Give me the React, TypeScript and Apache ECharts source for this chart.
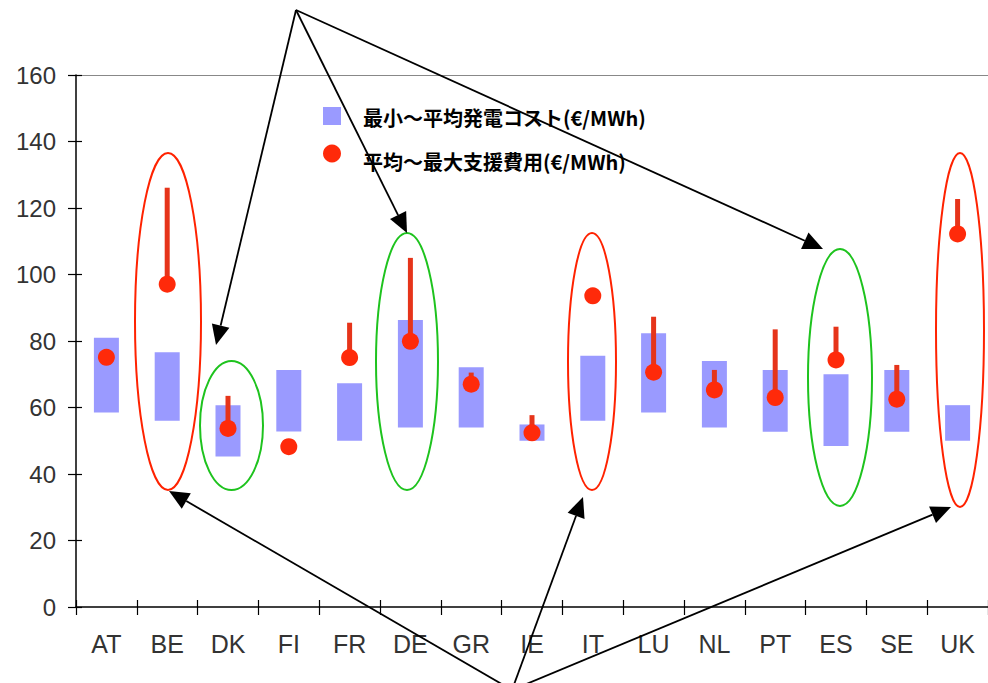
import React, { useEffect, useRef } from "react";
import * as echarts from "echarts";

const categories = ["AT", "BE", "DK", "FI", "FR", "DE", "GR", "IE", "IT", "LU", "NL", "PT", "ES", "SE", "UK"];
const costMin = [58.5, 56, 45.3, 52.8, 50, 54, 54, 50, 56, 58.5, 54, 52.7, 48.4, 52.7, 50];
const costAvg = [81, 76.6, 60.7, 71.3, 67.3, 86.3, 72.1, 54.9, 75.6, 82.3, 74, 71.3, 70, 71.3, 60.7];
const supportAvg = [75.1, 97.1, 53.7, 48.2, 75, 79.9, 67, 52.4, 93.6, 70.6, 65.3, 63, 74.3, 62.5, 112.2];
const supportMax = [75.1, 126.1, 63.5, 48.2, 85.5, 105, 70.5, 57.7, 93.6, 87.3, 71.3, 83.5, 84.3, 72.8, 122.7];
const legendNames = ["最小〜平均発電コスト(€/MWh)", "平均〜最大支援費用(€/MWh)"];

const BAR = "#9a9aff";
const DOT = "#ff2a0a";
const STEM = "#e6341a";
const RED = "#ff2200";
const GREEN = "#1ec31e";

function arrow(from: number[], to: number[]) {
  const dx = to[0] - from[0];
  const dy = to[1] - from[1];
  const len = Math.sqrt(dx * dx + dy * dy);
  const ux = dx / len;
  const uy = dy / len;
  const hl = 20;
  const hw = 9;
  const bx = to[0] - ux * hl;
  const by = to[1] - uy * hl;
  return [
    {
      type: "line",
      shape: { x1: from[0], y1: from[1], x2: bx, y2: by },
      style: { stroke: "#000", lineWidth: 1.8 },
      z: 100,
    },
    {
      type: "polygon",
      shape: {
        points: [
          [to[0], to[1]],
          [bx - uy * hw, by + ux * hw],
          [bx + uy * hw, by - ux * hw],
        ],
      },
      style: { fill: "#000" },
      z: 100,
    },
  ];
}

function ellipse(cx: number, cy: number, rx: number, ry: number, color: string) {
  return {
    type: "ellipse",
    shape: { cx, cy, rx, ry },
    style: { fill: "none", stroke: color, lineWidth: 2 },
    z: 90,
  };
}

export default function App() {
  const ref = useRef<HTMLDivElement>(null);
  useEffect(() => {
    if (!ref.current) return;
    const chart = echarts.init(ref.current, null, { renderer: "svg" });
    const topApex = [296, 10];
    const botApex = [512, 690];
    const graphics: any[] = [
      ellipse(168, 321.5, 33, 168.5, RED),
      ellipse(231.5, 425.5, 31.5, 64.5, GREEN),
      ellipse(407, 361.5, 31, 128.5, GREEN),
      ellipse(592, 361.5, 24, 128.5, RED),
      ellipse(840, 377.5, 32, 128.5, GREEN),
      ellipse(960, 330, 24, 177, RED),
      ...arrow(topApex, [216, 345]),
      ...arrow(topApex, [407, 233]),
      ...arrow(topApex, [823, 249]),
      ...arrow(botApex, [169, 491]),
      ...arrow(botApex, [583, 497]),
      ...arrow(botApex, [951, 507]),
      {
        type: "rect",
        shape: { x: 323, y: 107, width: 18, height: 18 },
        style: { fill: BAR },
        z: 80,
      },
      {
        type: "circle",
        shape: { cx: 332, cy: 153.5, r: 9 },
        style: { fill: DOT },
        z: 80,
      },
      {
        type: "text",
        x: 363,
        y: 117,
        style: {
          text: legendNames[0],
          fill: "#000",
          font: 'bold 20px "Noto Sans CJK JP"',
          verticalAlign: "middle",
        },
        z: 80,
      },
      {
        type: "text",
        x: 363,
        y: 161,
        style: {
          text: legendNames[1],
          fill: "#000",
          font: 'bold 20px "Noto Sans CJK JP"',
          verticalAlign: "middle",
        },
        z: 80,
      },
    ];

    chart.setOption({
      animation: false,
      backgroundColor: "#fff",
      grid: { left: 76, top: 75, bottom: 76, right: -5, containLabel: false },
      xAxis: [
        {
          type: "category",
          data: categories,
          position: "bottom",
          axisLine: { lineStyle: { color: "#000", width: 1.5 } },
          axisTick: { show: true, length: 8, lineStyle: { color: "#000", width: 1.2 } },
          axisLabel: {
            fontFamily: '"Liberation Sans Narrow", "Liberation Sans"',
            fontSize: 25,
            color: "#333",
            margin: 24,
          },
          splitLine: { show: false },
        },
        {
          type: "category",
          data: categories,
          position: "bottom",
          axisLine: { show: false },
          axisTick: { show: true, inside: true, length: 7, lineStyle: { color: "#000", width: 1.2 } },
          axisLabel: { show: false },
          splitLine: { show: false },
        },
        {
          type: "category",
          data: categories,
          position: "top",
          axisLine: { show: true, lineStyle: { color: "#888", width: 1 } },
          axisTick: { show: false },
          axisLabel: { show: false },
          splitLine: { show: false },
        },
      ],
      yAxis: [
        {
          type: "value",
          min: 0,
          max: 160,
          interval: 20,
          position: "left",
          axisLine: { show: true, lineStyle: { color: "#000", width: 1.5 } },
          axisTick: { show: true, length: 8, lineStyle: { color: "#000", width: 1.2 } },
          axisLabel: { fontFamily: "Liberation Sans", fontSize: 24, color: "#333", margin: 20 },
          splitLine: { show: false },
        },
        {
          type: "value",
          min: 0,
          max: 160,
          interval: 20,
          position: "left",
          axisLine: { show: false },
          axisTick: { show: true, inside: true, length: 6, lineStyle: { color: "#000", width: 1.2 } },
          axisLabel: { show: false },
          splitLine: { show: false },
        },
      ],
      series: [
        {
          type: "bar",
          stack: "cost",
          data: costMin,
          barWidth: 25,
          itemStyle: { color: "transparent" },
          silent: true,
          z: 2,
        },
        {
          name: legendNames[0],
          type: "bar",
          stack: "cost",
          data: costAvg.map((v, i) => +(v - costMin[i]).toFixed(2)),
          barWidth: 25,
          itemStyle: { color: BAR },
          z: 2,
        },
        {
          type: "custom",
          data: categories.map((_, i) => [i, supportAvg[i], supportMax[i]]),
          renderItem: (params: any, api: any) => {
            const a = api.coord([api.value(0), api.value(1)]);
            const b = api.coord([api.value(0), api.value(2)]);
            return {
              type: "line",
              shape: { x1: a[0], y1: a[1], x2: b[0], y2: b[1] },
              style: { stroke: STEM, lineWidth: 5 },
            };
          },
          z: 3,
        },
        {
          name: legendNames[1],
          type: "scatter",
          data: supportAvg,
          symbol: "circle",
          symbolSize: 17,
          itemStyle: { color: DOT, opacity: 1 },
          z: 4,
        },
      ],
      graphic: graphics,
    });
    return () => chart.dispose();
  }, []);
  return (
    <div
      ref={ref}
      style={{ position: "fixed", left: 0, top: 0, width: 988, height: 683, background: "#fff" }}
    />
  );
}
